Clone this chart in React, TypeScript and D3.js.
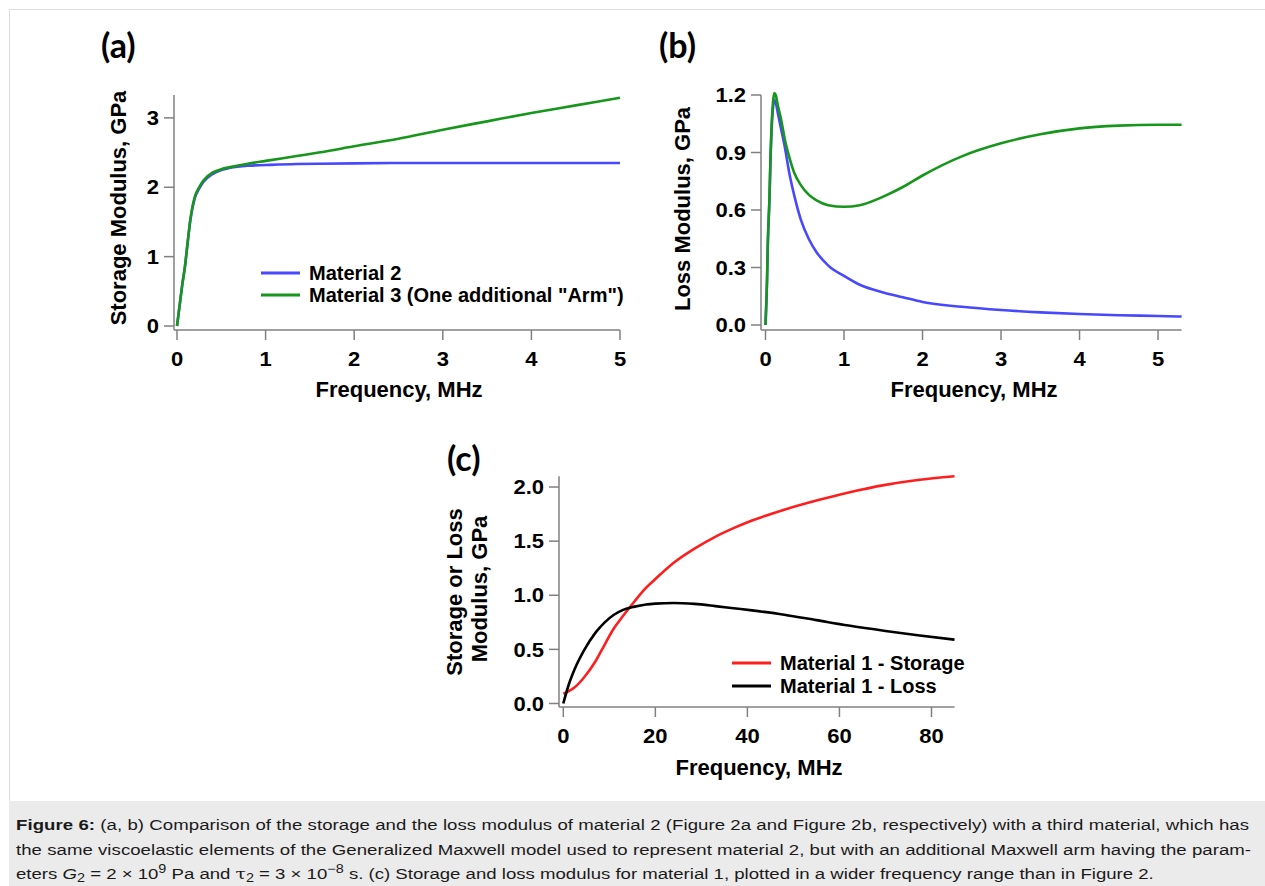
import React from 'react';
import * as d3 from 'd3';

// ---- data ----
// panel (a): storage modulus, GPa
const freqA = [0, 0.03, 0.06, 0.09, 0.12, 0.15, 0.2, 0.25, 0.3, 0.4, 0.5, 0.6, 0.8, 1.0, 1.35, 1.6, 2, 2.5, 3, 3.5, 4, 4.5, 5];
const storageM2 = [0, 0.3, 0.6, 0.86, 1.2, 1.52, 1.84, 1.98, 2.08, 2.19, 2.25, 2.28, 2.31, 2.32, 2.335, 2.34, 2.345, 2.35, 2.35, 2.35, 2.35, 2.35, 2.35];
const storageM3 = [0, 0.3, 0.6, 0.86, 1.2, 1.53, 1.86, 2.0, 2.1, 2.21, 2.26, 2.29, 2.34, 2.38, 2.45, 2.5, 2.59, 2.7, 2.83, 2.95, 3.07, 3.18, 3.29];

// panel (b): loss modulus, GPa
const freqB = [0, 0.02, 0.03, 0.05, 0.065, 0.08, 0.095, 0.11, 0.13, 0.16, 0.2, 0.25, 0.3, 0.37, 0.45, 0.55, 0.65, 0.8, 1.0, 1.2, 1.5, 1.75, 2, 2.5, 3, 3.5, 4, 4.5, 5, 5.3];
const lossM2 = [0, 0.24, 0.43, 0.65, 0.88, 1.04, 1.13, 1.175, 1.16, 1.1, 1.02, 0.92, 0.8, 0.67, 0.55, 0.45, 0.38, 0.31, 0.256, 0.21, 0.17, 0.145, 0.12, 0.095, 0.078, 0.066, 0.057, 0.051, 0.047, 0.044];
const lossM3 = [0, 0.24, 0.43, 0.66, 0.9, 1.06, 1.16, 1.21, 1.2, 1.14, 1.07, 0.96, 0.88, 0.79, 0.73, 0.68, 0.65, 0.625, 0.617, 0.625, 0.67, 0.72, 0.78, 0.88, 0.948, 0.995, 1.026, 1.04, 1.045, 1.045];

// panel (c): material 1, wider range
const freqC = [0, 1, 2.5, 4.5, 7, 9, 11, 13, 15.5, 18, 20, 24, 28.5, 33, 37, 41, 48, 55, 62, 70, 77, 85];
const storageM1 = [0.09, 0.11, 0.15, 0.24, 0.39, 0.545, 0.695, 0.81, 0.945, 1.07, 1.15, 1.3, 1.43, 1.54, 1.62, 1.69, 1.79, 1.875, 1.95, 2.02, 2.065, 2.1];
const lossM1 = [0, 0.15, 0.32, 0.49, 0.655, 0.75, 0.82, 0.865, 0.895, 0.915, 0.923, 0.929, 0.92, 0.9, 0.88, 0.86, 0.82, 0.77, 0.72, 0.67, 0.63, 0.59];

const ticksA_x = [0, 1, 2, 3, 4, 5];
const ticksA_y = [0, 1, 2, 3];
const ticksB_x = [0, 1, 2, 3, 4, 5];
const ticksB_y = [0, 0.3, 0.6, 0.9, 1.2];
const ticksC_x = [0, 20, 40, 60, 80];
const ticksC_y = [0, 0.5, 1.0, 1.5, 2.0];

const legendA = ['Material 2', 'Material 3 (One additional "Arm")'];
const legendC = ['Material 1 - Storage', 'Material 1 - Loss'];

const BLUE = '#4848ff';
const GREEN = '#17961c';
const RED = '#ff1e1e';
const BLACK = '#000000';
const AXIS = '#808080';
const FONT = "'Liberation Sans', Arial, sans-serif";

type Series = { xs: number[]; ys: number[]; color: string };

interface PanelProps {
    x: d3.ScaleLinear<number, number>;
    y: d3.ScaleLinear<number, number>;
    xTicks: number[];
    yTicks: number[];
    fmtX: (v: number) => string;
    fmtY: (v: number) => string;
    axisX: number; // x position of left axis line
    axisY: number; // y position of bottom axis line
    series: Series[];
}

const Panel: React.FC<PanelProps> = ({ x, y, xTicks, yTicks, fmtX, fmtY, axisX, axisY, series }) => {
    const [, y1] = y.range();
    const [, x1] = x.range();
    return (
        <g fontFamily={FONT} fontWeight="bold">
            {series.map((s, i) => {
                const pts = s.xs.map((v, k) => [v, s.ys[k]] as [number, number]);
                const line = d3.line<[number, number]>()
                    .x(d => x(d[0]))
                    .y(d => y(d[1]))
                    .curve(d3.curveMonotoneX);
                return <path key={i} d={line(pts) || ''} fill="none" stroke={s.color} strokeWidth={2.6} strokeLinejoin="round" />;
            })}
            <line x1={axisX} x2={axisX} y1={y1} y2={axisY} stroke={AXIS} strokeWidth={1.5} />
            <line x1={axisX} x2={x1} y1={axisY} y2={axisY} stroke={AXIS} strokeWidth={1.5} />
            {yTicks.map(t => (
                <g key={'y' + t}>
                    <line x1={axisX - 10} x2={axisX} y1={y(t)} y2={y(t)} stroke={AXIS} strokeWidth={1.5} />
                    <text transform={`translate(${axisX - 15},${y(t)}) scale(1.1,1)`} dy="0.36em" textAnchor="end" fontSize={20}>{fmtY(t)}</text>
                </g>
            ))}
            {xTicks.map(t => (
                <g key={'x' + t}>
                    <line x1={x(t)} x2={x(t)} y1={axisY} y2={axisY + 10} stroke={AXIS} strokeWidth={1.5} />
                    <text transform={`translate(${x(t)},${axisY + 36}) scale(1.1,1)`} textAnchor="middle" fontSize={20}>{fmtX(t)}</text>
                </g>
            ))}
        </g>
    );
};

const Legend: React.FC<{ x: number; y: number; gap: number; labels: string[]; colors: string[] }> = ({ x, y, gap, labels, colors }) => (
    <g fontFamily={FONT} fontWeight="bold" fontSize={20}>
        {labels.map((l, i) => (
            <g key={l}>
                <line x1={x} x2={x + 39} y1={y + i * gap} y2={y + i * gap} stroke={colors[i]} strokeWidth={3} />
                <text x={x + 48} y={y + i * gap} dy="0.35em">{l}</text>
            </g>
        ))}
    </g>
);

export default function App() {
    const xA = d3.scaleLinear().domain([0, 5]).range([177, 620]);
    const yA = d3.scaleLinear().domain([0, 3.33]).range([326, 95]);
    const xB = d3.scaleLinear().domain([0, 5.3]).range([765.5, 1181.6]);
    const yB = d3.scaleLinear().domain([0, 1.2]).range([325, 95]);
    const xC = d3.scaleLinear().domain([0, 85]).range([563.3, 954.5]);
    const yC = d3.scaleLinear().domain([0, 2.1]).range([703.5, 476.2]);

    const f0 = d3.format('d');
    const f1 = d3.format('.1f');

    const title = (x: number, y: number, t: string, rot = false) => (
        <text x={0} y={0} transform={`translate(${x},${y})${rot ? ' rotate(-90)' : ''}`} textAnchor="middle" dy="0.35em"
            fontFamily={FONT} fontWeight="bold" fontSize={22}>{t}</text>
    );
    const tag = (x: number, y: number, t: string) => (
        <text x={x} y={y} fontFamily="Lato, 'Open Sans', sans-serif" fontWeight="bold" fontSize={34}>{t}</text>
    );

    const capScale = 1.2;

    return (
        <svg width={1265} height={886} style={{ position: 'absolute', left: 0, top: 0, background: '#fff' }}>
            <rect x={9.5} y={9.5} width={1262} height={880} fill="none" stroke="#dcdcdc" />
            <rect x={9} y={801} width={1260} height={90} fill="#ebebeb" />

            {tag(101, 58, '(a)')}
            {tag(659, 58, '(b)')}
            {tag(447, 471, '(c)')}

            <Panel x={xA} y={yA} xTicks={ticksA_x} yTicks={ticksA_y} fmtX={f0} fmtY={f0} axisX={174} axisY={330}
                series={[{ xs: freqA, ys: storageM2, color: BLUE }, { xs: freqA, ys: storageM3, color: GREEN }]} />
            <Legend x={261} y={273} gap={22} labels={legendA} colors={[BLUE, GREEN]} />
            {title(399, 389, 'Frequency, MHz')}
            {title(118, 208, 'Storage Modulus, GPa', true)}

            <Panel x={xB} y={yB} xTicks={ticksB_x} yTicks={ticksB_y} fmtX={f0} fmtY={f1} axisX={761} axisY={330}
                series={[{ xs: freqB, ys: lossM2, color: BLUE }, { xs: freqB, ys: lossM3, color: GREEN }]} />
            {title(974, 389, 'Frequency, MHz')}
            {title(682, 209, 'Loss Modulus, GPa', true)}

            <Panel x={xC} y={yC} xTicks={ticksC_x} yTicks={ticksC_y} fmtX={f0} fmtY={f1} axisX={559} axisY={707}
                series={[{ xs: freqC, ys: storageM1, color: RED }, { xs: freqC, ys: lossM1, color: BLACK }]} />
            <Legend x={732} y={663} gap={23} labels={legendC} colors={[RED, BLACK]} />
            {title(759, 767, 'Frequency, MHz')}
            {title(454, 592, 'Storage or Loss', true)}
            {title(479, 589, 'Modulus, GPa', true)}

            <g fontFamily={FONT} fontSize={15.5} fill="#1a1a1a" transform={`translate(16,0) scale(${capScale},1)`}>
                <text x={0} y={830} textLength={1233 / capScale} lengthAdjust="spacing">
                    <tspan fontWeight="bold">Figure 6:</tspan> (a, b) Comparison of the storage and the loss modulus of material 2 (Figure 2a and Figure 2b, respectively) with a third material, which has
                </text>
                <text x={0} y={855} textLength={1235 / capScale} lengthAdjust="spacing">
                    the same viscoelastic elements of the Generalized Maxwell model used to represent material 2, but with an additional Maxwell arm having the param-
                </text>
                <text x={0} y={879}>
                    eters <tspan fontStyle="italic">G</tspan><tspan dy={3} fontSize={12}>2</tspan><tspan dy={-3}> = 2 × 10</tspan><tspan dy={-6} fontSize={12}>9</tspan><tspan dy={6}> Pa and </tspan><tspan fontFamily="'DejaVu Serif', serif">τ</tspan><tspan dy={3} fontSize={12}>2</tspan><tspan dy={-3}> = 3 × 10</tspan><tspan dy={-6} fontSize={12}>−8</tspan><tspan dy={6}> s. (c) Storage and loss modulus for material 1, plotted in a wider frequency range than in Figure 2.</tspan>
                </text>
            </g>
        </svg>
    );
}
